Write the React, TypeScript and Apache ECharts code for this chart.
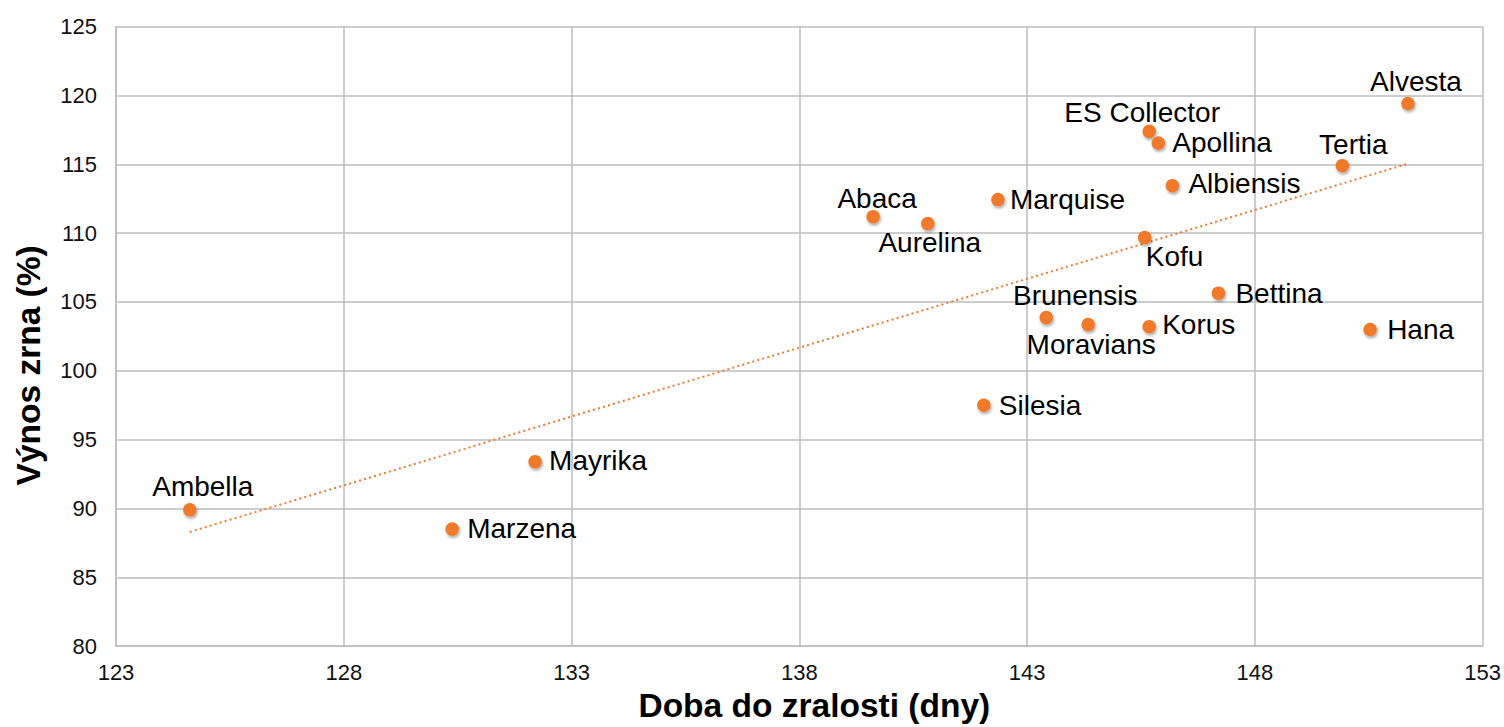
import React, { useEffect, useRef } from "react";
import * as echarts from "echarts";

// ---- Data ----
const varieties = [
  "Ambella", "Marzena", "Mayrika", "Silesia", "Abaca", "Aurelina",
  "Marquise", "Brunensis", "Moravians", "Korus", "Kofu", "ES Collector",
  "Apollina", "Albiensis", "Bettina", "Tertia", "Hana", "Alvesta",
];
const maturityDays = [
  124.62, 130.38, 132.2, 142.05, 139.62, 140.82,
  142.36, 143.42, 144.34, 145.68, 145.58, 145.68,
  145.88, 146.19, 147.2, 149.92, 150.53, 151.36,
];
const grainYield = [
  89.9, 88.5, 93.4, 97.5, 111.2, 110.7,
  112.44, 103.87, 103.36, 103.21, 109.68, 117.4,
  116.55, 113.45, 105.64, 114.9, 103.0, 119.42,
];
const xTickValues = [123, 128, 133, 138, 143, 148, 153];
const yTickValues = [80, 85, 90, 95, 100, 105, 110, 115, 120, 125];

const xTitle = "Doba do zralosti (dny)";
const yTitle = "Výnos zrna (%)";

// ---- Label placement (style): [align, dx, dy] relative to the dot ----
const labelPlacement: Record<string, [string, number, number]> = {
  Ambella: ["center", 13, -23],
  Marzena: ["left", 15, -1],
  Mayrika: ["left", 14, -1],
  Silesia: ["left", 15, 0],
  Abaca: ["center", 4, -18],
  Aurelina: ["center", 2, 19],
  Marquise: ["left", 12, 0],
  Brunensis: ["center", 29, -22],
  Moravians: ["center", 3, 20],
  Korus: ["left", 13, -2],
  Kofu: ["center", 30, 19],
  "ES Collector": ["center", -7, -19],
  Apollina: ["left", 14, -1],
  Albiensis: ["left", 16, -2],
  Bettina: ["left", 17, 0],
  Tertia: ["center", 11, -21],
  Hana: ["left", 17, 0],
  Alvesta: ["center", 8, -22],
};

const FONT = "'Liberation Sans', Arial, Helvetica, sans-serif";
const ORANGE = "#F07A2A";
const GRID = "#BDBDBD";

function linearFit(xs: number[], ys: number[]) {
  const n = xs.length;
  const mx = xs.reduce((a, b) => a + b, 0) / n;
  const my = ys.reduce((a, b) => a + b, 0) / n;
  let sxy = 0;
  let sxx = 0;
  for (let i = 0; i < n; i++) {
    sxy += (xs[i] - mx) * (ys[i] - my);
    sxx += (xs[i] - mx) * (xs[i] - mx);
  }
  const slope = sxy / sxx;
  return { slope, intercept: my - slope * mx };
}

export default function App() {
  const ref = useRef<HTMLDivElement>(null);

  useEffect(() => {
    if (!ref.current) return;
    const chart = echarts.init(ref.current, undefined, { renderer: "svg" });

    const fit = linearFit(maturityDays, grainYield);
    const xMin = Math.min(...maturityDays);
    const xMax = Math.max(...maturityDays);
    const trend = [
      [xMin, fit.intercept + fit.slope * xMin],
      [xMax, fit.intercept + fit.slope * xMax],
    ];

    const points = varieties.map((name, i) => {
      const p = labelPlacement[name] || ["left", 14, 0];
      return {
        name,
        value: [maturityDays[i], grainYield[i]],
        label: {
          align: p[0],
          offset: [p[1], p[2]],
        },
      };
    });

    const xInterval = xTickValues[1] - xTickValues[0];
    const yInterval = yTickValues[1] - yTickValues[0];

    chart.setOption({
      animation: false,
      backgroundColor: "#ffffff",
      grid: { left: 116, right: 19.5, top: 26.7, bottom: 73.7 },
      xAxis: {
        type: "value",
        min: xTickValues[0],
        max: xTickValues[xTickValues.length - 1],
        interval: xInterval,
        axisLine: { show: true, lineStyle: { color: GRID, width: 1.5 } },
        axisTick: { show: false },
        splitLine: { show: true, lineStyle: { color: GRID, width: 1.5 } },
        axisLabel: { fontSize: 22, color: "#111111", margin: 15, fontFamily: FONT },
        name: xTitle,
        nameLocation: "middle",
        nameGap: 34,
        nameTextStyle: {
          fontSize: 33.5,
          fontWeight: "bold",
          color: "#000000",
          fontFamily: FONT,
          padding: [0, 0, 0, 30],
        },
      },
      yAxis: {
        type: "value",
        min: yTickValues[0],
        max: yTickValues[yTickValues.length - 1],
        interval: yInterval,
        axisLine: { show: true, lineStyle: { color: GRID, width: 1.5 } },
        axisTick: { show: false },
        splitLine: { show: true, lineStyle: { color: GRID, width: 1.5 } },
        axisLabel: { fontSize: 22, color: "#111111", margin: 19, fontFamily: FONT },
        name: yTitle,
        nameLocation: "middle",
        nameGap: 71,
        nameTextStyle: {
          fontSize: 33.5,
          fontWeight: "bold",
          color: "#000000",
          fontFamily: FONT,
          padding: [0, 58, 0, 0],
        },
      },
      series: [
        {
          type: "line",
          data: trend,
          symbol: "none",
          silent: true,
          z: 1,
          lineStyle: { color: ORANGE, width: 2, type: [2, 3.2], opacity: 1 },
        },
        {
          type: "scatter",
          data: points,
          symbolSize: 13.5,
          z: 3,
          itemStyle: {
            color: ORANGE,
            opacity: 1,
            shadowColor: "rgba(0,0,0,0.35)",
            shadowBlur: 3,
            shadowOffsetX: 1,
            shadowOffsetY: 2,
          },
          label: {
            show: true,
            position: "inside",
            formatter: "{b}",
            fontSize: 28,
            color: "#000000",
            opacity: 1,
            fontFamily: FONT,
            verticalAlign: "middle",
          },
          emphasis: { disabled: true },
        },
      ],
    });

    return () => {
      chart.dispose();
    };
  }, []);

  return (
    <div
      ref={ref}
      style={{ position: "absolute", left: 0, top: 0, width: 1504, height: 727, background: "#fff" }}
    />
  );
}
